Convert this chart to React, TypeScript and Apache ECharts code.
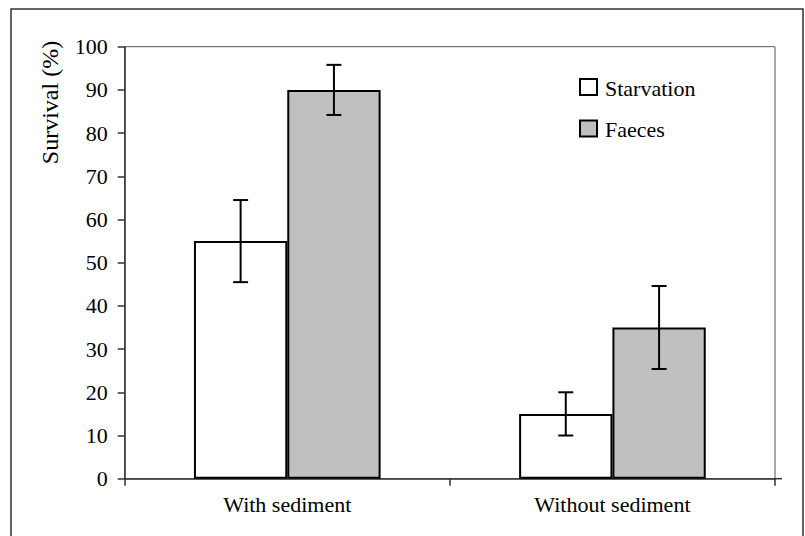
import React, { useEffect, useRef } from "react";
import * as echarts from "echarts";

const categories = ["With sediment", "Without sediment"];
const seriesNames = ["Starvation", "Faeces"];
const starvation = [55, 15];
const faeces = [90, 35];
const starvationErr = [9.5, 5];
const faecesErr = [5.8, 9.6];
const yTicks = { min: 0, max: 100, interval: 10 };

const FONT = "Liberation Serif";
const GAP = 0.426;
const FILLS = ["#ffffff", "#c0c0c0"];

export default function App() {
  const ref = useRef<HTMLDivElement>(null);
  useEffect(() => {
    document.body.style.margin = "0";
    const chart = echarts.init(ref.current!, undefined, { renderer: "svg" });
    const errData = (vals: number[], errs: number[]) =>
      vals.map((v, i) => [i, v - errs[i], v + errs[i]]);
    const errSeries = (name: string, vals: number[], errs: number[], side: number) => ({
      type: "custom",
      name: name + " err",
      z: 5,
      data: errData(vals, errs),
      renderItem: (params: any, api: any) => {
        const idx = api.value(0);
        const lo = api.coord([idx, api.value(1)]);
        const hi = api.coord([idx, api.value(2)]);
        const band = api.size([1, 0])[0];
        const bw = (band * (1 - GAP)) / 2;
        const x = lo[0] + (side * bw) / 2;
        const cap = 7.5;
        const style = { stroke: "#000", lineWidth: 2 };
        return {
          type: "group",
          children: [
            { type: "line", shape: { x1: x, y1: lo[1], x2: x, y2: hi[1] }, style },
            { type: "line", shape: { x1: x - cap, y1: hi[1], x2: x + cap, y2: hi[1] }, style },
            { type: "line", shape: { x1: x - cap, y1: lo[1], x2: x + cap, y2: lo[1] }, style },
          ],
        };
      },
    });
    const legendItems: any[] = [];
    seriesNames.forEach((n, i) => {
      const cy = 87 + i * 41.5;
      legendItems.push({
        type: "rect",
        shape: { x: 580, y: cy - 8, width: 17, height: 16 },
        style: { fill: FILLS[i], stroke: "#000", lineWidth: 2 },
      });
      legendItems.push({
        type: "text",
        x: 605,
        y: cy + 1,
        style: {
          text: n,
          fontFamily: FONT,
          fontSize: 22,
          fill: "#000",
          align: "left",
          verticalAlign: "middle",
        },
      });
    });
    chart.setOption({
      animation: false,
      textStyle: { fontFamily: FONT },
      grid: {
        left: 124.7,
        right: 30,
        top: 46.7,
        bottom: 57.3,
        show: true,
        borderColor: "#555",
        borderWidth: 1,
      },
      xAxis: {
        type: "category",
        data: categories,
        axisLine: { lineStyle: { color: "#333", width: 1.5 } },
        axisTick: { show: true, length: 7, lineStyle: { color: "#333", width: 1.5 } },
        axisLabel: { fontFamily: FONT, fontSize: 22, color: "#000", margin: 15 },
      },
      yAxis: {
        type: "value",
        min: yTicks.min,
        max: yTicks.max,
        interval: yTicks.interval,
        splitLine: { show: false },
        axisLine: { show: true, lineStyle: { color: "#333", width: 1.5 } },
        axisTick: { show: true, length: 7, lineStyle: { color: "#333", width: 1.5 } },
        axisLabel: { fontFamily: FONT, fontSize: 22, color: "#000", margin: 17 },
      },
      graphic: [
        {
          type: "rect",
          shape: { x: 11, y: 9, width: 792, height: 540 },
          style: { fill: "none", stroke: "#333", lineWidth: 1.5 },
          silent: true,
        },
        {
          type: "line",
          shape: { x1: 775, y1: 478.7, x2: 782, y2: 478.7 },
          style: { stroke: "#333", lineWidth: 1.5 },
        },
        {
          type: "text",
          x: 50,
          y: 102.5,
          rotation: Math.PI / 2,
          style: {
            text: "Survival (%)",
            fontFamily: FONT,
            fontSize: 24,
            fill: "#000",
            align: "center",
            verticalAlign: "middle",
          },
        },
        ...legendItems,
      ],
      series: [
        {
          type: "bar",
          name: seriesNames[0],
          data: starvation,
          barGap: "0%",
          barCategoryGap: GAP * 100 + "%",
          itemStyle: { color: FILLS[0], borderColor: "#000", borderWidth: 2 },
        },
        {
          type: "bar",
          name: seriesNames[1],
          data: faeces,
          itemStyle: { color: FILLS[1], borderColor: "#000", borderWidth: 2 },
        },
        errSeries(seriesNames[0], starvation, starvationErr, -1),
        errSeries(seriesNames[1], faeces, faecesErr, 1),
      ],
    });
    return () => chart.dispose();
  }, []);
  return <div ref={ref} style={{ width: 805, height: 536 }} />;
}
